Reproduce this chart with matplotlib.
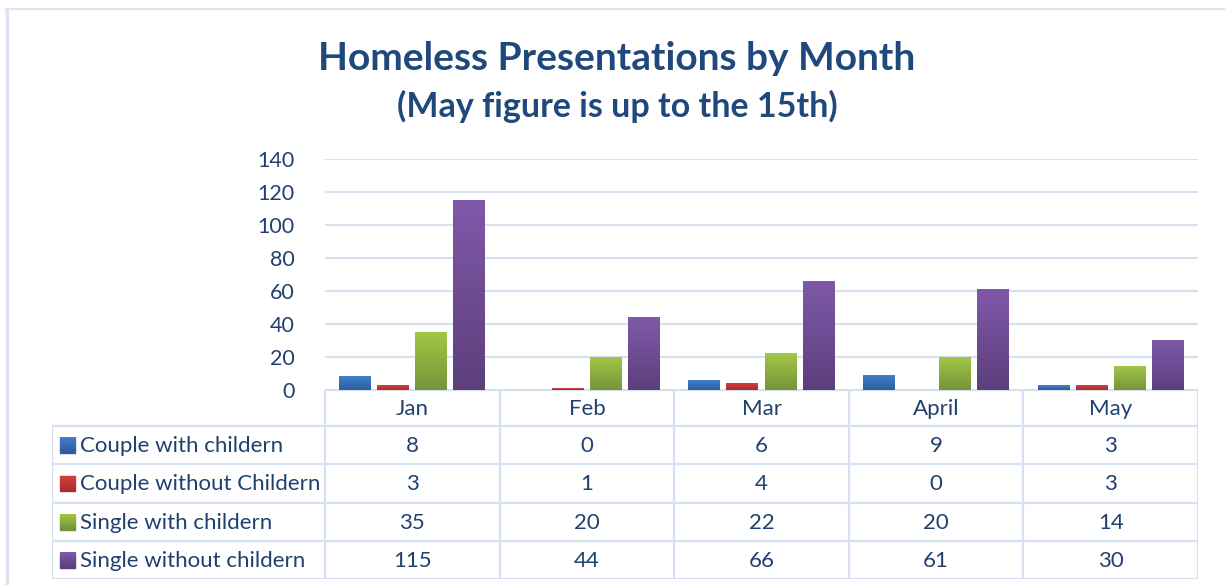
import numpy as np
import matplotlib
matplotlib.use('Agg')
from matplotlib import pyplot as plt
from matplotlib.colors import LinearSegmentedColormap
from matplotlib.patches import Rectangle
from matplotlib.lines import Line2D

# data
months = ['Jan', 'Feb', 'Mar', 'April', 'May']
series = ['Couple with childern', 'Couple without Childern',
          'Single with childern', 'Single without childern']
couple_with = [8, 0, 6, 9, 3]
couple_without = [3, 1, 4, 0, 3]
single_with = [35, 20, 22, 20, 14]
single_without = [115, 44, 66, 61, 30]
values = [couple_with, couple_without, single_with, single_without]

# (top colour, bottom colour) for each series
grads = [('#3F7FCC', '#2F5E9C'),
         ('#D53F3C', '#A92E2C'),
         ('#A2C645', '#75953A'),
         ('#7F59A9', '#5D3F7C')]

title_col = '#1F497D'
text_col = '#20416F'
line_col = '#D5E1F1'

plt.rcParams['font.family'] = ['Lato', 'DejaVu Sans']

W, H = 1225, 585
fig = plt.figure(figsize=(W / 100, H / 100), dpi=100)


def fx(px):
    return px / W


def fy(py):
    return 1 - py / H


def gradient_fill(ax, x, y, w, h, top, bottom, z=3):
    cmap = LinearSegmentedColormap.from_list('g', [bottom, top])
    grad = np.linspace(0, 1, 64).reshape(-1, 1)
    ax.imshow(grad, extent=[x, x + w, y, y + h], origin='lower',
              aspect='auto', cmap=cmap, zorder=z, interpolation='bilinear')


# frame around the chart
fig.add_artist(Line2D([fx(6), 1], [fy(9), fy(9)], color='#DCE4F1', lw=1.5))
fig.add_artist(Line2D([fx(7), fx(7)], [fy(9), 0], color='#DCE4F1', lw=2.5))

# titles
fig.text(fx(617), fy(58), 'Homeless Presentations by Month', ha='center',
         va='center', fontsize=28, fontweight='bold', color=title_col)
fig.text(fx(617), fy(106), '(May figure is up to the 15th)', ha='center',
         va='center', fontsize=24.5, fontweight='bold', color=title_col)

# bar chart
ax = fig.add_axes([fx(325), fy(390), fx(1198) - fx(325), fy(159) - fy(390)])
x = np.arange(len(months))
pitch = 0.218
bw = 0.183
for k, (vals, (top, bot)) in enumerate(zip(values, grads)):
    bars = ax.bar(x + (k - 1.5) * pitch, vals, width=bw, color=bot, zorder=3)
    for b in bars:
        if b.get_height() > 0:
            gradient_fill(ax, b.get_x(), 0, b.get_width(), b.get_height(), top, bot)

ax.set_xlim(-0.5, len(months) - 0.5)
ax.set_ylim(0, 140)
ax.set_yticks(range(0, 141, 20))
ax.yaxis.grid(True, color=line_col, lw=1.5, zorder=0)
ax.set_axisbelow(True)
ax.set_xticks([])
for s in ax.spines.values():
    s.set_visible(False)
ax.tick_params(axis='y', length=0, pad=22, labelsize=15.5, labelcolor=text_col)

# data table below
tab = fig.add_axes([fx(52), fy(579), fx(1198) - fx(52), fy(390) - fy(579)])
tab.axis('off')
col_edges = np.linspace(325, 1198, len(months) + 1)
row_edges = [390, 426, 464, 503, 541, 579]
lw = 1.6

for c in col_edges:
    tab.plot([c, c], [row_edges[0], row_edges[-1]], color=line_col, lw=lw,
             solid_capstyle='butt')
tab.plot([325, 1198], [row_edges[0], row_edges[0]], color=line_col, lw=lw)
for r in row_edges[1:]:
    tab.plot([52, 1198], [r, r], color=line_col, lw=lw)
tab.plot([52, 52], [row_edges[1], row_edges[-1]], color=line_col, lw=lw,
         solid_capstyle='butt')

for i, m in enumerate(months):
    cx = (col_edges[i] + col_edges[i + 1]) / 2
    tab.text(cx, (row_edges[0] + row_edges[1]) / 2 + 1, m, ha='center',
             va='center', fontsize=16, color=text_col)

for k, name in enumerate(series):
    y0, y1 = row_edges[k + 1], row_edges[k + 2]
    cy = (y0 + y1) / 2
    top, bot = grads[k]
    tab.add_patch(Rectangle((60, cy - 7.5), 15, 15, color=bot, zorder=2))
    tab.imshow(np.linspace(0, 1, 32).reshape(-1, 1),
               extent=[60, 75, cy + 7.5, cy - 7.5], origin='upper',
               aspect='auto', interpolation='bilinear', zorder=3,
               cmap=LinearSegmentedColormap.from_list('s', [top, bot]))
    tab.text(80, cy + 1, name, ha='left', va='center', fontsize=16,
             color=text_col)
    for i in range(len(months)):
        cx = (col_edges[i] + col_edges[i + 1]) / 2
        tab.text(cx, cy + 1, str(values[k][i]), ha='center', va='center',
                 fontsize=16, color=text_col)

tab.set_xlim(52, 1198)
tab.set_ylim(579, 390)

fig.savefig('out.png', dpi=100)
